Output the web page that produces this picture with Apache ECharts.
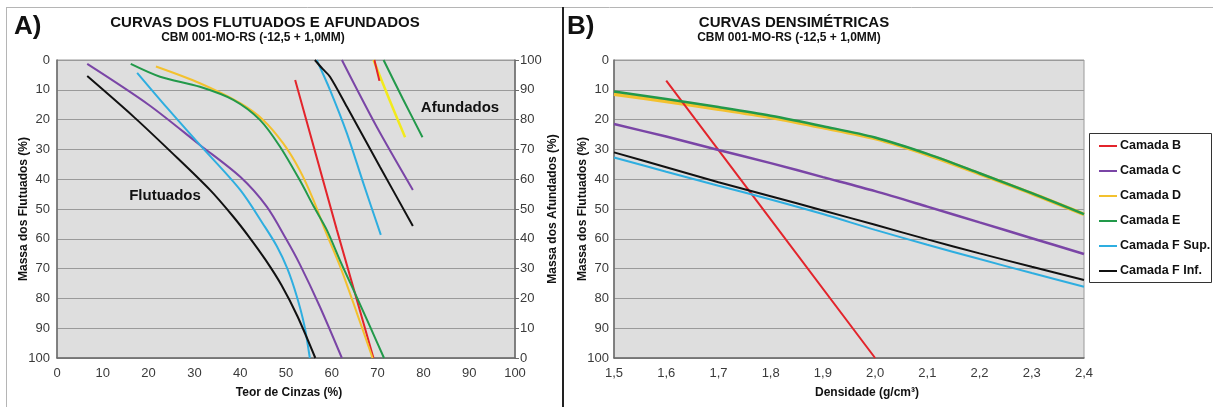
<!DOCTYPE html>
<html><head><meta charset="utf-8">
<script src="https://cdn.jsdelivr.net/npm/echarts@6/dist/echarts.min.js"></script>
<style>html,body{margin:0;padding:0;background:#fff}#c{width:1213px;height:407px}</style>
</head><body><div id="c"></div>
<script>
// ---------- Data: A) Curvas dos flutuados e afundados (x = Teor de Cinzas %, y = Massa %) ----------
const flutB = [[52,6.7],[61.1,57],[69.1,100]];
const flutC = [[6.6,1.3],[20,15],[31.2,28.5],[40,39.2],[45.8,49.2],[50,60],[53,68.5],[57.4,82.8],[62.2,100]];
const flutD = [[21.6,2.2],[31.2,7.8],[40,14.5],[45,20.1],[49.4,28],[53,37],[56,47],[58.5,57],[62,70],[65.5,85],[68.9,100]];
const flutE = [[16.1,1.3],[22.5,5.6],[31.2,9],[38.5,13.4],[44.3,20.1],[48.7,29.1],[53,40.3],[56,49],[58.9,57],[62,68],[65.4,79.4],[68.5,90],[71.4,100]];
const flutFSup = [[17.5,4.3],[24,16],[31.2,28.5],[40,43.6],[45.4,56],[48,62.5],[50.3,70],[52.3,79],[54,89],[55.2,100]];
const flutFInf = [[6.6,5.4],[16.7,19],[25,31],[33.4,43.6],[38.5,52.6],[42,59.5],[45.5,67],[49,75.5],[52.5,86],[56.4,100]];

const afundB = [[69.3,100],[70.4,93]];
const afundC = [[62.2,100],[69.8,77.6],[77.7,56.4]];
const afundD = [[69.1,100],[72.5,87],[76,74.1]];
const afundE = [[71.3,100],[75.5,87],[79.8,74.1]];
const afundFSup = [[56.7,100],[59.6,90],[63.3,75.4],[66.9,58.6],[70.7,41.3]];
const afundFInf = [[56.3,100],[58,97],[59.6,94.4],[63.3,84.3],[70.5,64.2],[77.7,44.3]];

// ---------- Data: B) Curvas densimétricas (x = Densidade g/cm³, y = Massa dos Flutuados %) ----------
const densB = [[1.6,6.9],[1.8,53.45],[2.0,100]];
const densC = [[1.5,21.5],[1.6,25.7],[1.7,30.2],[1.8,34.6],[1.9,39.3],[2.0,44],[2.1,49.2],[2.2,54.5],[2.3,59.8],[2.4,65.1]];
const densD = [[1.5,11.5],[1.6,13.9],[1.7,16.5],[1.8,19.3],[1.9,22.7],[2.0,26.4],[2.1,31.8],[2.2,38.2],[2.3,44.8],[2.4,51.8]];
const densE = [[1.5,10.6],[1.6,13.1],[1.7,15.8],[1.8,18.7],[1.9,22.2],[2.0,26],[2.1,31.5],[2.2,38],[2.3,44.7],[2.4,51.7]];
const densFSup = [[1.5,32.7],[1.6,37.5],[1.7,42.2],[1.8,46.8],[1.9,51.7],[2.0,57],[2.1,62],[2.2,66.8],[2.3,71.5],[2.4,76.1]];
const densFInf = [[1.5,31],[1.6,36],[1.7,41],[1.8,45.7],[1.9,50.5],[2.0,55.3],[2.1,60.2],[2.2,64.9],[2.3,69.4],[2.4,73.8]];

const legendNames = ['Camada B','Camada C','Camada D','Camada E','Camada F Sup.','Camada F Inf.'];

const COL = {B:'#e3242b', C:'#7a45a6', D:'#f3c12e', Dbright:'#f2ea1c', E:'#22994a', FSup:'#2eaee0', FInf:'#111111'};
const FONT = '"Liberation Sans", Arial, sans-serif';

const chart = echarts.init(document.getElementById('c'), null, {renderer:'canvas'});

function line(name, data, color, xi, yi, width, z, smooth){
  return {name, type:'line', data, xAxisIndex:xi, yAxisIndex:yi, smooth: smooth===undefined ? 0.3 : smooth, showSymbol:false, symbol:'none',
    lineStyle:{color, width: width||2}, itemStyle:{color}, z: z||2, animation:false, emphasis:{disabled:true}};
}

const tickLabel = {color:'#3a3a3a', fontSize:13, fontFamily:FONT};
const gridLine = {show:true, lineStyle:{color:'#9a9a9a', width:1}};

const option = {
  animation:false,
  textStyle:{fontFamily:FONT},
  grid:[
    {left:57, top:60, width:458, height:298, show:true, backgroundColor:'#dedede', borderColor:'#9a9a9a', borderWidth:1},
    {left:614, top:60, width:470, height:298, show:true, backgroundColor:'#dedede', borderColor:'#9a9a9a', borderWidth:1}
  ],
  xAxis:[
    {gridIndex:0, type:'value', min:0, max:100, interval:10, splitLine:{show:false},
      axisLine:{show:true, onZero:false, lineStyle:{color:'#6a6a6a', width:1.5}}, axisTick:{show:false},
      axisLabel:Object.assign({margin:9}, tickLabel)},
    {gridIndex:1, type:'value', min:1.5, max:2.4, interval:0.1, splitLine:{show:false},
      axisLine:{show:true, onZero:false, lineStyle:{color:'#6a6a6a', width:1.5}}, axisTick:{show:false},
      axisLabel:Object.assign({margin:9, formatter:v=>v.toFixed(1).replace('.',',')}, tickLabel)}
  ],
  yAxis:[
    {gridIndex:0, type:'value', inverse:true, min:0, max:100, interval:10, position:'left',
      axisLine:{show:true, lineStyle:{color:'#6a6a6a', width:1.5}}, axisTick:{show:false}, splitLine:gridLine,
      axisLabel:Object.assign({margin:7}, tickLabel)},
    {gridIndex:0, type:'value', min:0, max:100, interval:10, position:'right',
      axisLine:{show:true, lineStyle:{color:'#6a6a6a', width:1.5}}, axisTick:{show:true, length:4, lineStyle:{color:'#6a6a6a'}}, splitLine:{show:false},
      axisLabel:Object.assign({margin:5}, tickLabel)},
    {gridIndex:1, type:'value', inverse:true, min:0, max:100, interval:10, position:'left',
      axisLine:{show:true, lineStyle:{color:'#6a6a6a', width:1.5}}, axisTick:{show:false}, splitLine:gridLine,
      axisLabel:Object.assign({margin:5}, tickLabel)}
  ],
  legend:{
    orient:'vertical', left:1099, top:139, itemWidth:18, itemHeight:2, icon:'rect', itemGap:11,
    padding:0, data:legendNames,
    textStyle:{fontSize:12.5, fontWeight:'bold', color:'#111', fontFamily:FONT, lineHeight:14, padding:[0,0,0,-2]}
  },
  series:[
    // B) densimétricas
    line('Camada B', densB, COL.B, 1, 2, 2, 3, false),
    line('Camada C', densC, COL.C, 1, 2, 2.5, 3),
    line('Camada D', densD, COL.D, 1, 2, 3.5, 2),
    line('Camada E', densE, COL.E, 1, 2, 2.5, 4),
    line('Camada F Sup.', densFSup, COL.FSup, 1, 2, 2, 3),
    line('Camada F Inf.', densFInf, COL.FInf, 1, 2, 2, 3),
    // A) flutuados
    line('fB', flutB, COL.B, 0, 0, 2, 2, false),
    line('fC', flutC, COL.C, 0, 0),
    line('fD', flutD, COL.D, 0, 0),
    line('fE', flutE, COL.E, 0, 0),
    line('fFS', flutFSup, COL.FSup, 0, 0),
    line('fFI', flutFInf, COL.FInf, 0, 0),
    // A) afundados
    line('aD', afundD, COL.Dbright, 0, 1, 2.5),
    line('aB', afundB, COL.B, 0, 1, 2, 3, false),
    line('aC', afundC, COL.C, 0, 1),
    line('aE', afundE, COL.E, 0, 1),
    line('aFS', afundFSup, COL.FSup, 0, 1),
    line('aFI', afundFInf, COL.FInf, 0, 1)
  ],
  graphic:[
    // panel frames
    {type:'line', shape:{x1:6, y1:7.5, x2:1213, y2:7.5}, style:{stroke:'#b5b5b5', lineWidth:1}, silent:true},
    {type:'line', shape:{x1:6.5, y1:7, x2:6.5, y2:407}, style:{stroke:'#b5b5b5', lineWidth:1}, silent:true},
    {type:'line', shape:{x1:563, y1:7, x2:563, y2:407}, style:{stroke:'#222', lineWidth:2}, silent:true},
    // legend frame
    {type:'rect', shape:{x:1089.5, y:133.5, width:122, height:149}, style:{fill:'#fff', stroke:'#333', lineWidth:1}, z:-1, silent:true},
    // panel letters
    {type:'text', left:14, top:14, style:{text:'A)', font:'bold 26px '+FONT, fill:'#111'}},
    {type:'text', left:567, top:14, style:{text:'B)', font:'bold 26px '+FONT, fill:'#111'}},
    // titles
    {type:'text', x:265, y:23, style:{text:'CURVAS DOS FLUTUADOS E AFUNDADOS', font:'bold 15px '+FONT, fill:'#111', align:'center', verticalAlign:'middle'}},
    {type:'text', x:253, y:38, style:{text:'CBM 001-MO-RS (-12,5 + 1,0MM)', font:'bold 12px '+FONT, fill:'#111', align:'center', verticalAlign:'middle'}},
    {type:'text', x:794, y:23, style:{text:'CURVAS DENSIMÉTRICAS', font:'bold 15px '+FONT, fill:'#111', align:'center', verticalAlign:'middle'}},
    {type:'text', x:789, y:38, style:{text:'CBM 001-MO-RS (-12,5 + 1,0MM)', font:'bold 12px '+FONT, fill:'#111', align:'center', verticalAlign:'middle'}},
    // axis names
    {type:'text', x:24, y:209, rotation:Math.PI/2, style:{text:'Massa dos Flutuados (%)', font:'bold 12px '+FONT, fill:'#111', align:'center', verticalAlign:'middle'}},
    {type:'text', x:553, y:209, rotation:Math.PI/2, style:{text:'Massa dos Afundados (%)', font:'bold 12px '+FONT, fill:'#111', align:'center', verticalAlign:'middle'}},
    {type:'text', x:583, y:209, rotation:Math.PI/2, style:{text:'Massa dos Flutuados (%)', font:'bold 12px '+FONT, fill:'#111', align:'center', verticalAlign:'middle'}},
    {type:'text', x:289, y:393, style:{text:'Teor de Cinzas (%)', font:'bold 12px '+FONT, fill:'#111', align:'center', verticalAlign:'middle'}},
    {type:'text', x:867, y:393, style:{text:'Densidade (g/cm³)', font:'bold 12px '+FONT, fill:'#111', align:'center', verticalAlign:'middle'}},
    // curve labels
    {type:'text', x:165, y:196, style:{text:'Flutuados', font:'bold 15px '+FONT, fill:'#111', align:'center', verticalAlign:'middle'}, z:10},
    {type:'text', x:460, y:108, style:{text:'Afundados', font:'bold 15px '+FONT, fill:'#111', align:'center', verticalAlign:'middle'}, z:10}
  ]
};
chart.setOption(option);
</script></body></html>
